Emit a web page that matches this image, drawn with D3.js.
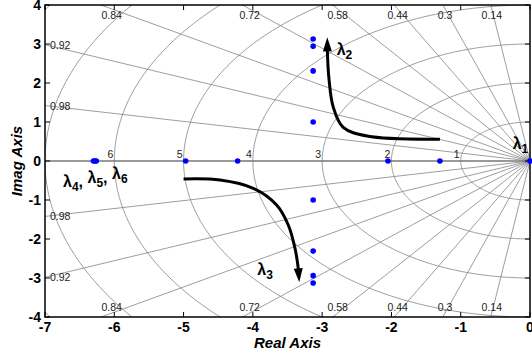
<!DOCTYPE html>
<html><head><meta charset="utf-8">
<script src="https://cdn.jsdelivr.net/npm/d3@7"></script>
<style>body{margin:0;background:#fff}text{font-family:"Liberation Sans",Arial,Helvetica,sans-serif}</style>
</head><body><svg id="c" width="532" height="356"></svg>
<script>
const xTicks=[-7,-6,-5,-4,-3,-2,-1,0];
const yTicks=[-4,-3,-2,-1,0,1,2,3,4];
const zetaValues=[0.14,0.3,0.44,0.58,0.72,0.84,0.92,0.98];
const wnValues=[1,2,3,4,5,6,7,8];
const wnLabels=[1,2,3,4,5,6];
const poleRe=[0,-1.30,-2.05,-4.22,-4.97,-6.30,-6.28,-6.26,-3.13,-3.13,-3.13,-3.13,-3.13,-3.13,-3.13,-3.13];
const poleIm=[0,0,0,0,0,0,0,0,3.13,2.94,2.31,1.0,-1.0,-2.31,-2.94,-3.13];
const arrow2Re=[-1.30,-2.35,-2.70,-2.84,-2.90,-2.924,-2.926];
const arrow2Im=[0.56,0.64,0.87,1.385,2.08,2.79,3.17];
const arrow3Re=[-5.00,-4.475,-3.994,-3.657,-3.489,-3.392,-3.345,-3.33];
const arrow3Im=[-0.462,-0.487,-0.70,-1.128,-1.641,-2.238,-2.751,-3.11];
const lambdaLabels=[
  {parts:[["λ","1"]],re:-0.25,im:0.31},
  {parts:[["λ","2"]],re:-2.79,im:2.72},
  {parts:[["λ","3"]],re:-3.936,im:-2.92},
  {parts:[["λ","4"],["λ","5"],["λ","6"]],re:-6.74,im:-0.67}
];

const L=45,R=530,T=5,B=317;
const x=d3.scaleLinear().domain([-7,0]).range([L,R]);
const y=d3.scaleLinear().domain([-4,4]).range([B,T]);
const svg=d3.select("#c");
svg.append("defs").append("clipPath").attr("id","clip").append("rect")
  .attr("x",L).attr("y",T).attr("width",R-L).attr("height",B-T);
const line=d3.line().x(d=>x(d[0])).y(d=>y(d[1]));
const grid=svg.append("g").attr("clip-path","url(#clip)");
// wn circles
wnValues.forEach(wn=>{
  const pts=d3.range(90,270.5,1).map(a=>[wn*Math.cos(a*Math.PI/180),wn*Math.sin(a*Math.PI/180)]);
  grid.append("path").attr("d",line(pts)).attr("fill","none").attr("stroke","#858585").attr("stroke-width",0.8);
});
// zeta lines
const Rr=30;
zetaValues.forEach(z=>{
  const s=Math.sqrt(1-z*z);
  [1,-1].forEach(sg=>{
    grid.append("path").attr("d",line([[0,0],[-Rr*z,sg*Rr*s]])).attr("fill","none").attr("stroke","#858585").attr("stroke-width",0.8);
  });
});
grid.append("path").attr("d",line([[0,0],[-Rr,0]])).attr("stroke","#777").attr("stroke-width",1.6);

// zeta labels
zetaValues.forEach(z=>{
  const s=Math.sqrt(1-z*z);
  const cross=-4*z/s;
  if(cross>=-7){
    const xp=x(-3.9*z/s);
    svg.append("text").attr("x",xp).attr("y",T+14).attr("text-anchor","middle").attr("font-size",10.5).attr("fill","#222").text(z);
    svg.append("text").attr("x",xp).attr("y",B-6).attr("text-anchor","middle").attr("font-size",10.5).attr("fill","#222").text(z);
  } else {
    const w=7*s/z;
    [1,-1].forEach(sg=>{
      svg.append("text").attr("x",L+5).attr("y",y(sg*w)+4).attr("font-size",10.5).attr("fill","#222").text(z);
    });
  }
});
// wn labels
wnLabels.forEach(wn=>{
  svg.append("text").attr("x",x(-wn)-1).attr("y",y(0)-3).attr("text-anchor","end").attr("font-size",10.5).attr("fill","#222").text(wn);
});

// frame and ticks
svg.append("rect").attr("x",L).attr("y",T).attr("width",R-L).attr("height",B-T).attr("fill","none").attr("stroke","#000").attr("stroke-width",1.5);
xTicks.forEach(t=>{
  svg.append("line").attr("x1",x(t)).attr("x2",x(t)).attr("y1",B).attr("y2",B-5).attr("stroke","#000");
  svg.append("line").attr("x1",x(t)).attr("x2",x(t)).attr("y1",T).attr("y2",T+5).attr("stroke","#000");
  svg.append("text").attr("x",x(t)).attr("y",B+15).attr("text-anchor","middle").attr("font-size",14).attr("font-weight","bold").text(t);
});
yTicks.forEach(t=>{
  svg.append("line").attr("x1",L).attr("x2",L+5).attr("y1",y(t)).attr("y2",y(t)).attr("stroke","#000");
  svg.append("line").attr("x1",R).attr("x2",R-5).attr("y1",y(t)).attr("y2",y(t)).attr("stroke","#000");
  svg.append("text").attr("x",L-4).attr("y",y(t)+5).attr("text-anchor","end").attr("font-size",14).attr("font-weight","bold").text(t);
});
svg.append("text").attr("x",(L+R)/2).attr("y",348).attr("text-anchor","middle").attr("font-size",15).attr("font-weight","bold").attr("font-style","italic").text("Real Axis");
svg.append("text").attr("transform",`translate(22,${y(0)}) rotate(-90)`).attr("text-anchor","middle").attr("font-size",15).attr("font-weight","bold").attr("font-style","italic").text("Imag Axis");

// poles
svg.append("g").selectAll("circle").data(poleRe.map((r,i)=>[r,poleIm[i]])).join("circle")
  .attr("cx",d=>x(d[0])).attr("cy",d=>y(d[1])).attr("r",2.8).attr("fill","#0000ff");

// arrows
function arrow(re,im){
  const pts=re.map((r,i)=>[r,im[i]]);
  const tip=pts[pts.length-1], base=pts[pts.length-2];
  const tx=x(tip[0]),ty=y(tip[1]);
  let bx=x(base[0]),by=y(base[1]);
  const dx=tx-bx,dy=ty-by,len=Math.hypot(dx,dy),ux=dx/len,uy=dy/len;
  const hl=14,hw=4.5;
  const hx=tx-ux*hl,hy=ty-uy*hl;
  const body=pts.slice(0,-1);
  svg.append("path").attr("d",d3.line().x(d=>x(d[0])).y(d=>y(d[1])).curve(d3.curveCatmullRom)(body.concat([[x.invert(hx+ux*2),y.invert(hy+uy*2)]])))
    .attr("fill","none").attr("stroke","#000").attr("stroke-width",3);
  svg.append("path").attr("d",`M${tx},${ty}L${hx-uy*hw},${hy+ux*hw}L${hx+uy*hw},${hy-ux*hw}Z`).attr("fill","#000");
}
arrow(arrow2Re,arrow2Im);
arrow(arrow3Re,arrow3Im);

// lambda labels
lambdaLabels.forEach(l=>{
  const t=svg.append("text").attr("x",x(l.re)).attr("y",y(l.im)).attr("font-weight","bold").attr("font-size",16);
  l.parts.forEach((p,i)=>{
    t.append("tspan").attr("dy",i===0?0:-4).text((i>0?" ":"")+p[0]);
    t.append("tspan").attr("font-size",12).attr("dy",4).text(p[1]);
    if(i<l.parts.length-1) t.append("tspan").attr("dy",-4).text(",");
  });
});
</script></body></html>
